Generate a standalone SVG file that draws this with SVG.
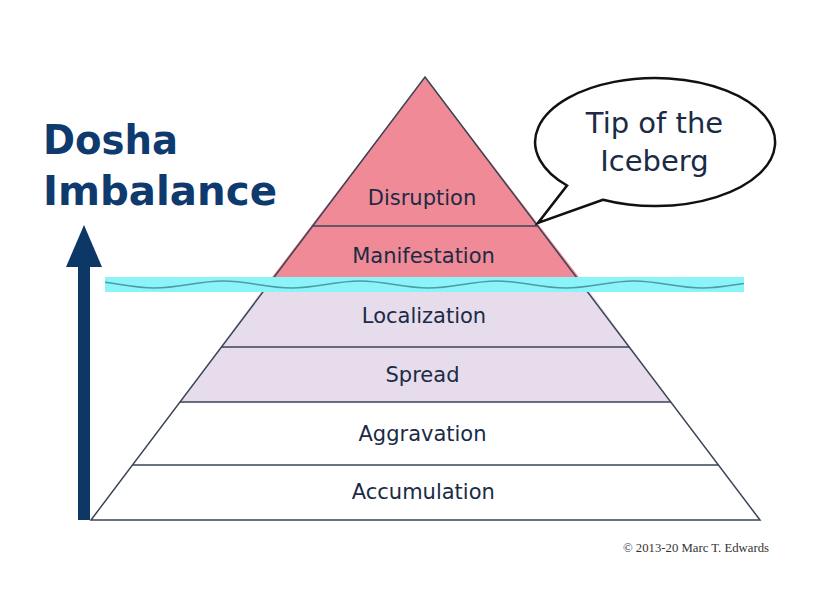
<svg xmlns="http://www.w3.org/2000/svg" width="832" height="602" viewBox="0 0 832 602">
  <defs>
    <style>
      .lbl { font-family: "DejaVu Sans", Verdana, sans-serif; font-size: 21px; fill: #1b2b45; text-anchor: middle; }
      .title { font-family: "DejaVu Sans", Verdana, sans-serif; font-size: 40px; font-weight: bold; fill: #0e3a6e; }
      .bub { font-family: "DejaVu Sans", Verdana, sans-serif; font-size: 29px; fill: #1b2b45; text-anchor: middle; }
      .edge { stroke: #3a4556; stroke-width: 1.5; fill: none; }
    </style>
    <clipPath id="bandClip">
      <rect x="105" y="277" width="639" height="15"/>
    </clipPath>
  </defs>
  <rect width="832" height="602" fill="#ffffff"/>

  <g id="title">
    <text class="title" x="43" y="154" textLength="135" lengthAdjust="spacingAndGlyphs">Dosha</text>
    <text class="title" x="43" y="205" textLength="234" lengthAdjust="spacingAndGlyphs">Imbalance</text>
  </g>

  <g id="arrow">
    <rect x="78" y="264" width="12" height="256" fill="#0c3766"/>
    <polygon points="84,225 102,267 66,267" fill="#0c3766"/>
  </g>

  <g id="pyramid">
    <polygon points="425,77 266,285 585,285" fill="#ef8a96"/>
    <polygon points="266,285 585,285 670.8,402 180,402" fill="#e6dcec"/>
    <polygon points="180,402 670.8,402 760,520 91,520" fill="#ffffff"/>
    <polygon class="edge" points="425,77 760,520 91,520"/>
    <line class="edge" x1="312.7" y1="226" x2="537.7" y2="226"/>
    <line class="edge" x1="221.4" y1="347" x2="629.2" y2="347"/>
    <line class="edge" x1="180" y1="402" x2="670.8" y2="402"/>
    <line class="edge" x1="132.5" y1="465" x2="718.4" y2="465"/>
  </g>

  <g id="level-disruption"><text class="lbl" x="422" y="205">Disruption</text></g>
  <g id="level-manifestation"><text class="lbl" x="423.5" y="263">Manifestation</text></g>
  <g id="level-localization"><text class="lbl" x="424" y="323">Localization</text></g>
  <g id="level-spread"><text class="lbl" x="422.5" y="382">Spread</text></g>
  <g id="level-aggravation"><text class="lbl" x="422.5" y="441">Aggravation</text></g>
  <g id="level-accumulation"><text class="lbl" x="423.3" y="499">Accumulation</text></g>

  <g id="water">
    <rect x="105" y="277" width="639" height="15" fill="#8af4f8"/>
    <path clip-path="url(#bandClip)" fill="none" stroke="#4e9aa6" stroke-width="1.5"
      d="M86,281 C110.7,281 129.8,288 154.5,288 S198.3,281 223,281 S266.8,288 291.5,288 S335.3,281 360,281 S403.8,288 428.5,288 S472.3,281 497,281 S540.8,288 565.5,288 S609.3,281 634,281 S677.8,288 702.5,288 S746.3,281 771,281"/>
  </g>

  <g id="bubble">
    <path d="M603,199.7 L538,223 L567,185.5 A120,64 0 1 1 603,199.7 Z" fill="#ffffff" stroke="#111111" stroke-width="2.5" stroke-linejoin="miter"/>
    <text class="bub" x="654.5" y="133">Tip of the</text>
    <text class="bub" x="654.5" y="171">Iceberg</text>
  </g>

  <g id="copyright">
    <text x="623" y="552" font-family="'Liberation Serif', 'Times New Roman', serif" font-size="12" fill="#333333" textLength="146" lengthAdjust="spacingAndGlyphs">© 2013-20 Marc T. Edwards</text>
  </g>
</svg>
